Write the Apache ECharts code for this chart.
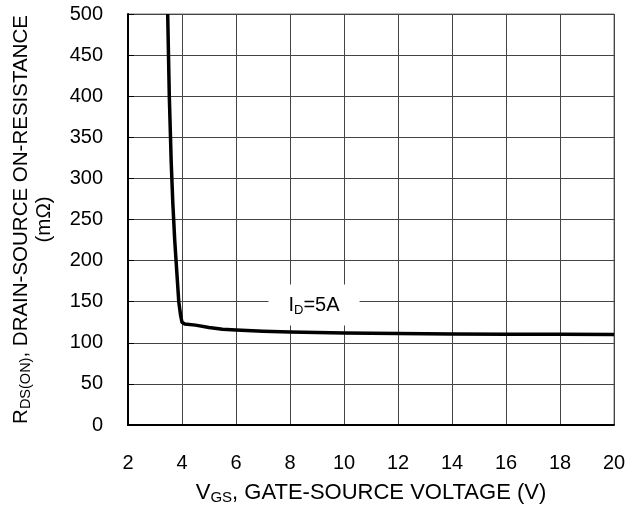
<!DOCTYPE html>
<html><head><meta charset="utf-8">
<script src="https://cdn.jsdelivr.net/npm/echarts@6/dist/echarts.min.js"></script>
<style>html,body{margin:0;padding:0;background:#fff}#c{width:640px;height:506px}</style>
</head><body><div id="c"></div>
<script>
// Data
const vgs = [3.47, 3.53, 3.6, 3.66, 3.73, 3.8, 3.88, 3.95, 4.0, 4.1, 4.5, 5, 5.5, 6, 7, 8, 10, 12, 14, 16, 18, 20];
const rds = [500, 400, 320, 270, 225, 190, 150, 133, 125, 123, 121.5, 118.5, 116.5, 115.5, 114, 113, 112, 111.3, 110.8, 110.5, 110.3, 110];
const xTicks = [2, 4, 6, 8, 10, 12, 14, 16, 18, 20];
const yTicks = [0, 50, 100, 150, 200, 250, 300, 350, 400, 450, 500];
const labelPos = [8.89, 146];

const FONT = '"Liberation Sans", Arial, sans-serif';
const chart = echarts.init(document.getElementById('c'), null, {renderer: 'canvas'});
const richY = {
  i: {fontSize: 20.5, fontFamily: FONT, color: '#000'},
  s: {fontSize: 14.5, fontFamily: FONT, color: '#000', padding: [9, 0, 0, 0]}
};
const richX = {
  i: {fontSize: 22, fontFamily: FONT, color: '#000'},
  s: {fontSize: 15, fontFamily: FONT, color: '#000', padding: [9, 0, 0, 0]}
};
chart.setOption({
  animation: false,
  backgroundColor: '#fff',
  grid: {left: 128, right: 26, top: 14, bottom: 81, show: true, borderColor: '#777', borderWidth: 1,
         containLabel: false, outerBoundsMode: 'none'},
  xAxis: {
    type: 'value', min: xTicks[0], max: xTicks[xTicks.length - 1], interval: 2,
    axisLine: {show: true, lineStyle: {color: '#000', width: 2}},
    axisTick: {show: false},
    splitLine: {show: true, lineStyle: {color: '#444', width: 1}},
    axisLabel: {fontSize: 20, fontFamily: FONT, color: '#000', margin: 28},
    name: '{i|V}{s|GS}{i|, GATE-SOURCE VOLTAGE (V)}',
    nameLocation: 'middle', nameGap: 56,
    nameTextStyle: {rich: richX}
  },
  yAxis: {
    type: 'value', min: yTicks[0], max: yTicks[yTicks.length - 1], interval: 50,
    axisLine: {show: true, lineStyle: {color: '#000', width: 2}},
    axisTick: {show: true, inside: true, length: 6, lineStyle: {color: '#000'}},
    splitLine: {show: true, lineStyle: {color: '#444', width: 1}},
    axisLabel: {fontSize: 20, fontFamily: FONT, color: '#000', margin: 25},
    name: '{i|R}{s|DS(ON)}{i|, DRAIN-SOURCE ON-RESISTANCE}\n{i|(mΩ)}',
    nameLocation: 'middle', nameRotate: 90, nameGap: 72,
    nameTextStyle: {rich: richY, lineHeight: 23}
  },
  series: [
    {
      type: 'line', data: vgs.map((x, k) => [x, rds[k]]), showSymbol: false,
      smooth: false,
      lineStyle: {color: '#000', width: 3.5, join: 'round'}, z: 3
    },
    {
      type: 'scatter', data: [labelPos], symbolSize: 0, z: 4, silent: true,
      itemStyle: {opacity: 1},
      label: {
        show: true, position: 'inside', opacity: 1,
        formatter: '{i|I}{s|D}{i|=5A}',
        backgroundColor: '#fff', padding: [10, 20, 9, 20],
        rich: {
          i: {fontSize: 20, fontFamily: FONT, color: '#000'},
          s: {fontSize: 13, fontFamily: FONT, color: '#000', padding: [9, 0, 0, 0]}
        }
      }
    }
  ]
});
</script></body></html>
